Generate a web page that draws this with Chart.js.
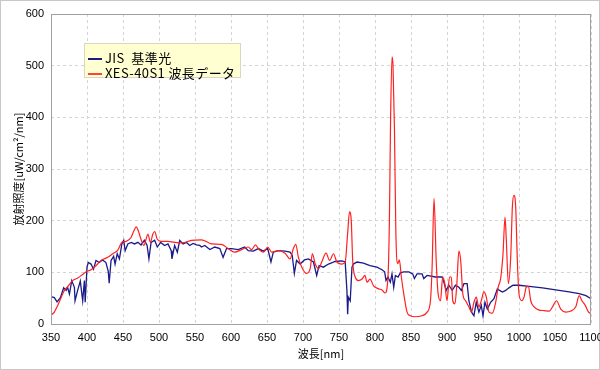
<!DOCTYPE html>
<html>
<head>
<meta charset="utf-8">
<script src="https://cdn.jsdelivr.net/npm/chart.js@4/dist/chart.umd.min.js"></script>
<style>
  html, body { margin: 0; padding: 0; background: #fff; }
  #wrap { position: relative; width: 600px; height: 370px; box-sizing: border-box; border: 1px solid #c8c8c8; }
  #chart { position: absolute; left: 0; top: 0; }
  .legend {
    position: absolute; left: 83px; top: 42px; width: 157px; height: 35px;
    box-sizing: border-box; background: #ffffd2; border: 1px solid #d8d8c0;
    font-family: "Noto Sans CJK JP", sans-serif; font-size: 13px; letter-spacing: 0.4px; color: #000;
  }
  .legend div { position: absolute; left: 3px; height: 15px; line-height: 15px; white-space: nowrap; }
  .legend span { display: inline-block; width: 14px; height: 2px; vertical-align: middle; margin-right: 3px; }
</style>
</head>
<body>
<div id="wrap">
  <canvas id="chart" width="600" height="370"></canvas>
  <div class="legend">
    <div style="top:6px"><span style="background:#1a1a8a"></span>JIS&nbsp; 基準光</div>
    <div style="top:21px"><span style="background:#ff4040"></span>XES-40S1 波長データ</div>
  </div>
</div>
<script>
// axis ticks
const xTicks = [350, 400, 450, 500, 550, 600, 650, 700, 750, 800, 850, 900, 950, 1000, 1050, 1100];
const yTicks = [0, 100, 200, 300, 400, 500, 600];

// JIS reference spectrum (wavelength nm, irradiance)
const jisWl = [350, 354.6, 358.4, 363, 367.6, 371, 373, 375.6, 378.8, 382.5, 383.4, 387, 390.7, 394, 396.4, 397.5,
  400, 401.8, 405.6, 409, 412.5, 417, 421.5, 426.3, 429.5, 430.8, 433.4, 437, 439, 442, 445, 448.4, 451, 453,
  456.7, 461.4, 466, 470.7, 475, 479.7, 483.5, 486, 489, 494, 497.6, 502.3, 507.8, 512.5, 517, 518, 521.7,
  525.5, 528.8, 533.4, 538, 542.7, 547.3, 552, 556.6, 559, 563.6, 570.6, 577.5, 584.5, 589, 593.8, 600.7,
  610, 619, 624, 631, 638, 645, 651, 655.5, 658.8, 665.8, 675, 682, 685, 688, 691, 696, 702, 707.5, 714.5,
  719, 722.4, 728.4, 735.4, 744.7, 754, 758.6, 761, 762, 763, 765.6, 768, 770, 775, 784, 793, 802.7, 809.7,
  813.4, 815.3, 818, 821.3, 823.6, 826, 828.3, 832, 835.2, 840, 847, 852.4, 854.7, 858.4, 865.4, 867.7,
  872.4, 884, 893.3, 895.6, 898.8, 902.6, 907.2, 911.8, 916.5, 920, 923.5, 928, 930.4, 934.1, 937.4, 940.6,
  944.3, 947.6, 950, 952.7, 956, 960.6, 965.2, 970, 973, 977, 981.5, 986, 991.7, 1000, 1014, 1032.6, 1051,
  1069.7, 1083.6, 1093, 1100];
const jisVal = [53, 51, 43, 51, 70, 65, 71, 58, 84, 71, 45, 65, 83, 45, 84, 42,
  110, 119, 116, 106, 123, 119, 124, 119, 102, 79, 123, 131, 116, 136, 126, 155, 162, 142,
  155, 158, 155, 158, 153, 162, 152, 126, 158, 162, 149, 158, 152, 155, 142, 126, 152,
  139, 162, 155, 158, 152, 156, 153, 152, 149, 152, 144, 149, 146, 129, 146, 146,
  144, 149, 142, 141, 146, 141, 146, 120, 139, 142, 141, 139, 133, 98, 123, 116, 124, 126, 120,
  94, 113, 110, 116, 121, 122, 120, 65, 19, 52, 45, 110, 116, 120, 118, 113, 110, 105,
  101, 84, 91, 81, 97, 71, 94, 91, 99, 101, 101, 97, 88, 97, 97, 88,
  94, 91, 91, 81, 65, 75, 65, 75, 71, 65, 78, 78, 45, 23, 16, 42,
  23, 36, 16, 42, 29, 42, 49, 68, 65, 62, 65, 70, 75, 75, 73, 70, 66,
  62, 59, 55, 49];

// XES-40S1 spectrum (wavelength nm, irradiance)
const xesWl = [350, 354.6, 359.3, 364, 368.6, 373, 380, 387, 394, 400, 405.6, 412.5, 419.5, 428.8, 435.8, 442.8,
  448.4, 454.4, 461.4, 465, 468.4, 471.6, 475, 479, 482, 484.6, 488, 491.5, 494, 497.6, 503, 512.5, 521.7,
  533, 545, 559, 573, 587, 596, 605, 614.7, 624, 628.6, 634, 639, 645, 651, 656.5, 665.8, 675, 682, 686.6,
  690, 693.6, 698.3, 705, 710, 713, 717, 721.5, 726, 732, 737, 742.4, 747, 754, 758.6, 762, 764.6, 767, 769,
  772.5, 777, 782, 786, 789, 793, 798, 805, 809.7, 814, 818, 820, 821.5, 823.6, 825, 827, 829, 831.5, 833.8,
  836.6, 840, 844.5, 849, 856, 865, 872.4, 877, 879.3, 882, 885, 887.7, 891, 894, 897, 900, 903.5, 906, 908,
  911, 913.7, 916.5, 919, 922, 925.8, 930.4, 934, 937.4, 940.6, 944.3, 947.6, 951.3, 954.6, 958.3, 963,
  967.6, 971, 974.5, 977.8, 980.6, 982.4, 985.2, 988.5, 990.8, 993, 995.4, 997.7, 1000, 1003.8, 1007, 1010,
  1013, 1016.3, 1021, 1028, 1035, 1042, 1046.5, 1052, 1058, 1065, 1072, 1079, 1083.6, 1087.4, 1092, 1096.6, 1100];
const xesVal = [17, 23, 36, 51, 65, 72, 84, 89, 96, 102, 105, 113, 123, 129, 136, 143,
  158, 160, 168, 180, 188, 179, 164, 152, 164, 174, 158, 174, 179, 164, 160, 160, 158,
  157, 162, 163, 155, 154, 146, 139, 144, 149, 144, 153, 144, 139, 149, 139, 142, 137, 126, 146,
  154, 129, 110, 98, 107, 136, 116, 107, 120, 137, 123, 136, 120, 116, 120, 175, 217, 201, 123,
  91, 84, 87, 94, 81, 87, 74, 68, 66, 60, 90, 200, 380, 517, 500, 380, 175, 117, 124,
  91, 58, 23, 16, 14, 16, 23, 45, 110, 243, 123, 58, 45, 91, 78, 45, 91, 91, 45,
  39, 78, 141, 123, 58, 45, 33, 23, 42, 52, 33, 45, 62, 52, 23, 21,
  42, 71, 88, 136, 207, 162, 78, 130, 227, 249, 227, 123, 58, 45, 52, 71,
  73, 45, 33, 27, 26, 25, 33, 45, 29, 23, 25, 34, 55, 45, 36, 23, 20];

const toPoints = (xs, ys) => xs.map((x, i) => ({ x: x, y: ys[i] }));

// frame around the plot area
const framePlugin = {
  id: 'frame',
  afterDraw(chart) {
    const a = chart.chartArea;
    const ctx = chart.ctx;
    ctx.save();
    ctx.strokeStyle = '#a0a0a0';
    ctx.lineWidth = 1;
    ctx.strokeRect(a.left + 0.5, a.top + 0.5, a.right - a.left - 1, a.bottom - a.top);
    ctx.restore();
  }
};

const tickFont = { family: "'Liberation Sans', Arial, sans-serif", size: 11 };
const titleFont = { family: "'Noto Sans CJK JP', sans-serif", size: 11 };

new Chart(document.getElementById('chart').getContext('2d'), {
  type: 'line',
  data: {
    datasets: [
      {
        label: 'JIS  基準光',
        data: toPoints(jisWl, jisVal),
        borderColor: '#1a1a8a',
        borderWidth: 1.3,
        pointRadius: 0,
        tension: 0,
        order: 1
      },
      {
        label: 'XES-40S1 波長データ',
        data: toPoints(xesWl, xesVal),
        borderColor: '#ff2020',
        borderWidth: 1.2,
        pointRadius: 0,
        cubicInterpolationMode: 'monotone',
        order: 0
      }
    ]
  },
  options: {
    responsive: false,
    animation: false,
    layout: { padding: { top: 13, right: 10, bottom: 0, left: 0 } },
    plugins: { legend: { display: false }, tooltip: { enabled: false } },
    scales: {
      x: {
        type: 'linear',
        min: 350,
        max: 1100,
        afterBuildTicks: s => { s.ticks = xTicks.map(v => ({ value: v })); },
        afterFit: s => { s.height = 47; s.paddingLeft = 0; s.paddingRight = 0; },
        grid: { color: '#d4d4d4', drawTicks: false },
        border: { display: false, dash: [3, 3] },
        ticks: { font: tickFont, color: '#000', padding: 7, maxRotation: 0, callback: v => String(v) },
        title: { display: true, text: '波長[nm]', font: titleFont, color: '#000', padding: { top: 0, bottom: 11 } }
      },
      y: {
        min: 0,
        max: 600,
        afterBuildTicks: s => { s.ticks = yTicks.map(v => ({ value: v })); },
        afterFit: s => { s.width = 50; s.paddingTop = 0; s.paddingBottom = 0; },
        grid: { color: '#d4d4d4', drawTicks: false },
        border: { display: false, dash: [3, 3] },
        ticks: { font: tickFont, color: '#000', padding: 7 },
        title: { display: true, text: '放射照度[uW/cm²/nm]', font: titleFont, color: '#000', padding: { top: 11, bottom: 0 } }
      }
    }
  },
  plugins: [framePlugin]
});
</script>
</body>
</html>
